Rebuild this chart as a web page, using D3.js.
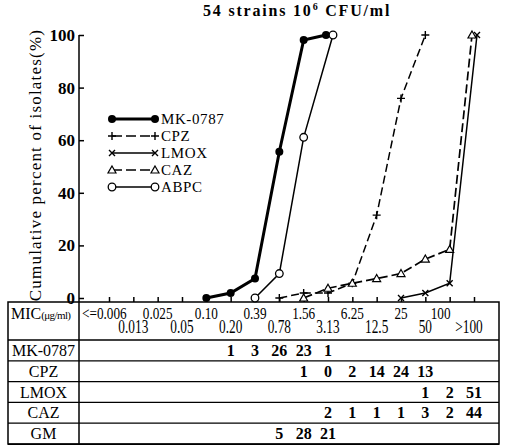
<!DOCTYPE html>
<html><head><meta charset="utf-8">
<script src="https://cdn.jsdelivr.net/npm/d3@7"></script>
<style>body{margin:0;background:#fff} svg{display:block}</style>
</head><body>
<script>
// ---------- data ----------
const categories = ["<=0.006","0.013","0.025","0.05","0.10","0.20","0.39","0.78","1.56","3.13","6.25","12.5","25","50","100",">100"];
const yTicks = [0,20,40,60,80,100];

// cumulative percent curves
const mkCats   = ["0.10","0.20","0.39","0.78","1.56","3.13"];
const mkPct    = [0, 1.9, 7.4, 55.6, 98.1, 100];
const cpzCats  = ["0.78","1.56","3.13","6.25","12.5","25","50"];
const cpzPct   = [0, 1.9, 1.9, 5.6, 31.5, 75.9, 100];
const lmoxCats = ["25","50","100",">100"];
const lmoxPct  = [0, 1.9, 5.6, 100];
const cazCats  = ["1.56","3.13","6.25","12.5","25","50","100",">100"];
const cazPct   = [0, 3.7, 5.6, 7.4, 9.3, 14.8, 18.5, 100];
const abpcCats = ["0.39","0.78","1.56","3.13"];
const abpcPct  = [0, 9.3, 61.1, 100];

// table of strain counts per MIC
const tableRows = ["MK-0787","CPZ","LMOX","CAZ","GM"];
const _ = null;
const mkCounts   = [_,_,_,_,_,1,3,26,23,1,_,_,_,_,_,_];
const cpzCounts  = [_,_,_,_,_,_,_,_,1,0,2,14,24,13,_,_];
const lmoxCounts = [_,_,_,_,_,_,_,_,_,_,_,_,_,1,2,51];
const cazCounts  = [_,_,_,_,_,_,_,_,_,2,1,1,1,3,2,44];
const gmCounts   = [_,_,_,_,_,_,_,5,28,21,_,_,_,_,_,_];
const tableCounts = [mkCounts, cpzCounts, lmoxCounts, cazCounts, gmCounts];

// ---------- layout ----------
const W = 506, H = 448;
const FONT = "'Liberation Serif','Times New Roman',serif";
const svg = d3.select("body").append("svg").attr("width", W).attr("height", H)
  .style("font-family", FONT);

const axisX = 79, axisY = 302, tableLeft = 8, tableRight = 499, headerBottom = 340, rowH = 20.8;
const x = d3.scalePoint().domain(categories).range([109, 474]);
const y = d3.scaleLinear().domain([0, 100]).range([298, 35]);

// title
const title = svg.append("text").attr("x", 203).attr("y", 16)
  .attr("font-size", 16).attr("font-weight", "bold").attr("letter-spacing", 1.8);
title.append("tspan").text("54 strains 10");
title.append("tspan").attr("font-size", 10).attr("dy", -6).text("6");
title.append("tspan").attr("dy", 6).text(" CFU/ml");

// y label
svg.append("text").attr("transform", `translate(41,165) rotate(-90)`)
  .attr("text-anchor", "middle").attr("font-size", 17).attr("letter-spacing", 1.2)
  .text("Cumulative percent of isolates(%)");

// y axis
const yAxis = d3.axisLeft(y).tickValues(yTicks).tickSize(-5).tickSizeOuter(0).tickPadding(4);
const gy = svg.append("g").attr("transform", `translate(${axisX},0)`).call(yAxis);
gy.select(".domain").remove();
gy.selectAll("text").attr("font-size", 17).attr("font-weight", "bold").attr("font-family", FONT).attr("fill", "#000");
gy.selectAll("line").attr("stroke", "#000").attr("stroke-width", 1.5);
svg.append("line").attr("x1", axisX).attr("x2", axisX).attr("y1", y(100)).attr("y2", H - 4)
  .attr("stroke", "#000").attr("stroke-width", 1.5);

// x axis ticks (upward)
const xAxis = d3.axisTop(x).tickSize(5).tickSizeOuter(0).tickFormat("");
const gx = svg.append("g").attr("transform", `translate(0,${axisY})`).call(xAxis);
gx.select(".domain").remove();
gx.selectAll("line").attr("stroke", "#000").attr("stroke-width", 1.5);

// ---------- table ----------
const tableBottom = headerBottom + rowH * tableRows.length;
svg.append("rect").attr("x", tableLeft).attr("y", axisY).attr("width", tableRight - tableLeft)
  .attr("height", tableBottom - axisY).attr("fill", "none").attr("stroke", "#000").attr("stroke-width", 1.5);
svg.append("rect").attr("x", tableLeft).attr("y", tableBottom - 0.5).attr("width", tableRight - tableLeft)
  .attr("height", 1.5).attr("fill", "#000");
[headerBottom, ...tableRows.slice(1).map((r, i) => headerBottom + rowH * (i + 1))].forEach(yy => {
  svg.append("line").attr("x1", tableLeft).attr("x2", tableRight).attr("y1", yy).attr("y2", yy)
    .attr("stroke", "#000").attr("stroke-width", 1.3);
});

// header
const mic = svg.append("text").attr("x", tableLeft + 3).attr("y", 319).attr("font-size", 16);
mic.append("tspan").text("MIC");
mic.append("tspan").attr("font-size", 11).attr("letter-spacing", -0.6).text("(μg/ml)");

categories.forEach((c, i) => {
  const top = i % 2 === 0;
  let px = x(c), anchor = "middle";
  if (i === 0) { px = axisX + 3; anchor = "start"; }
  if (c === "100") px -= 9;
  if (c === ">100") px -= 5;
  svg.append("text")
    .attr("transform", `translate(${px},${top ? 319 : 333}) scale(${top ? 0.8 : 0.74},1)`)
    .attr("text-anchor", anchor).attr("font-size", top ? 16.5 : 18).text(c);
});

// rows
tableRows.forEach((name, r) => {
  const base = headerBottom + rowH * r + 16;
  svg.append("text").attr("x", (tableLeft + axisX) / 2).attr("y", base)
    .attr("text-anchor", "middle").attr("font-size", 16).text(name);
  tableCounts[r].forEach((v, i) => {
    if (v === null) return;
    svg.append("text").attr("x", x(categories[i])).attr("y", base)
      .attr("text-anchor", "middle").attr("font-size", 16).attr("font-weight", "bold").text(v);
  });
});

// ---------- series ----------
const plusPath = "M-4,0H4M0,-4V4";
const xPath = "M-3,-3L3,3M-3,3L3,-3";
const triPath = "M0,-4L4,3L-4,3Z";
const series = [
  {name: "MK-0787", cats: mkCats, pct: mkPct, width: 3, dash: null, marker: "dot", endShift: -2},
  {name: "CPZ", cats: cpzCats, pct: cpzPct, width: 1.5, dash: "8,4", marker: "plus", endShift: 0},
  {name: "LMOX", cats: lmoxCats, pct: lmoxPct, width: 1.5, dash: null, marker: "x", endShift: 3},
  {name: "CAZ", cats: cazCats, pct: cazPct, width: 1.7, dash: "9,4", marker: "tri", endShift: -2},
  {name: "ABPC", cats: abpcCats, pct: abpcPct, width: 1.5, dash: null, marker: "open", endShift: 5},
];

function drawMarker(g, type, px, py) {
  if (type === "dot") g.append("circle").attr("cx", px).attr("cy", py).attr("r", 4).attr("fill", "#000");
  else if (type === "open") g.append("circle").attr("cx", px).attr("cy", py).attr("r", 3.8)
    .attr("fill", "#fff").attr("stroke", "#000").attr("stroke-width", 1.3);
  else if (type === "plus") g.append("path").attr("d", plusPath).attr("transform", `translate(${px},${py})`)
    .attr("stroke", "#000").attr("stroke-width", 1.4).attr("fill", "none");
  else if (type === "x") g.append("path").attr("d", xPath).attr("transform", `translate(${px},${py})`)
    .attr("stroke", "#000").attr("stroke-width", 1.4).attr("fill", "none");
  else if (type === "tri") g.append("path").attr("d", triPath).attr("transform", `translate(${px},${py})`)
    .attr("stroke", "#000").attr("stroke-width", 1.2).attr("fill", "#fff");
}

series.forEach(s => {
  const pts = s.cats.map((c, i) => [x(c) + (i === s.cats.length - 1 ? s.endShift : 0), y(s.pct[i])]);
  const g = svg.append("g");
  g.append("path").attr("d", d3.line()(pts)).attr("fill", "none").attr("stroke", "#000")
    .attr("stroke-width", s.width).attr("stroke-dasharray", s.dash);
  pts.forEach(p => drawMarker(g, s.marker, p[0], p[1]));
});

// legend
series.forEach((s, i) => {
  const ly = 119 + i * 17;
  const g = svg.append("g");
  g.append("line").attr("x1", 112).attr("x2", 155).attr("y1", ly).attr("y2", ly)
    .attr("stroke", "#000").attr("stroke-width", s.width).attr("stroke-dasharray", s.dash ? "10,4" : null);
  drawMarker(g, s.marker, 112, ly);
  drawMarker(g, s.marker, 155, ly);
  g.append("text").attr("x", 161).attr("y", ly + 5).attr("font-size", 15).attr("letter-spacing", 0.6)
    .text(s.name);
});
</script>
</body></html>
